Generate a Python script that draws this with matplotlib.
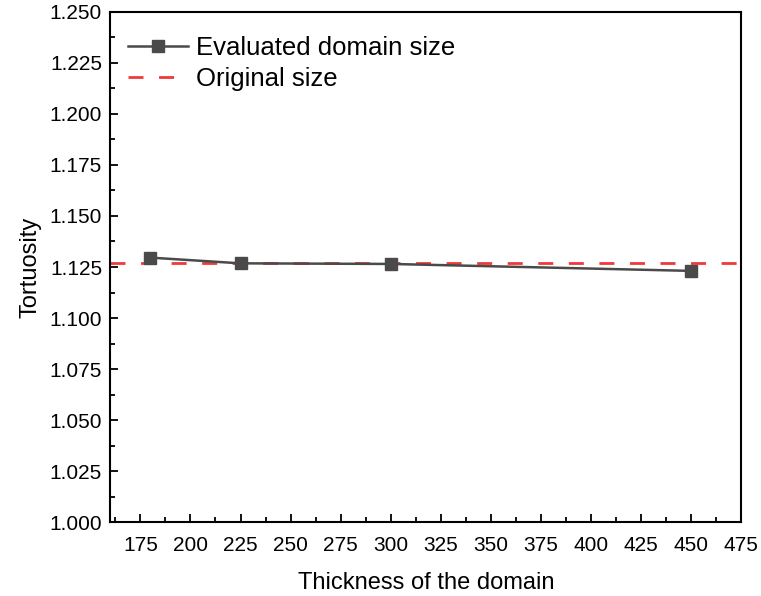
import matplotlib.pyplot as plt
from matplotlib.ticker import MultipleLocator

plt.rcParams['font.family'] = ['Liberation Sans', 'DejaVu Sans']

# domain thickness vs. computed tortuosity
thickness = [180, 225, 300, 450]
tortuosity = [1.1296, 1.1268, 1.1265, 1.1231]
tortuosity_err = [0.0010, 0.0008, 0.0008, 0.0008]
original_tortuosity = 1.1270

fig = plt.figure(figsize=(7.61, 5.96), dpi=100)
ax = fig.add_axes([0.145, 0.124, 0.829, 0.856])

ax.errorbar(thickness, tortuosity, yerr=tortuosity_err, fmt='none', ecolor='#4a4a4a',
            elinewidth=1.2, capsize=0, zorder=3)
line, = ax.plot(thickness, tortuosity, color='#4a4a4a', marker='s', markersize=8.5,
                linewidth=1.8, label='Evaluated domain size', zorder=4)
ref = ax.axhline(original_tortuosity, color='#f03a3a', linestyle=(0, (5.4, 5.6)), linewidth=2,
                 label='Original size', zorder=2)

ax.set_xlim(160, 475)
ax.set_ylim(1.0, 1.25)
ax.set_xticks(range(175, 476, 25))
ax.xaxis.set_minor_locator(MultipleLocator(12.5))
ax.yaxis.set_major_locator(MultipleLocator(0.025))
ax.yaxis.set_minor_locator(MultipleLocator(0.0125))
ax.yaxis.set_major_formatter(plt.FormatStrFormatter('%.3f'))

ax.tick_params(which='both', direction='in', top=False, right=False, labelsize=15)
ax.tick_params(which='major', length=6, width=1.3, pad=6)
ax.tick_params(which='minor', length=3.5, width=1.3)
ax.tick_params(axis='x', which='major', pad=10)
for sp in ax.spines.values():
    sp.set_linewidth(1.5)

ax.set_xlabel('Thickness of the domain', fontsize=17, labelpad=12)
ax.set_ylabel('Tortuosity', fontsize=17, labelpad=6)

ax.legend(handles=[line, ref], loc='upper left', bbox_to_anchor=(-0.011, 1.0),
          frameon=False, fontsize=18.5, handlelength=2.35, borderaxespad=0.55,
          labelspacing=0.25, handletextpad=0.3)

fig.savefig('out.png', dpi=100)
